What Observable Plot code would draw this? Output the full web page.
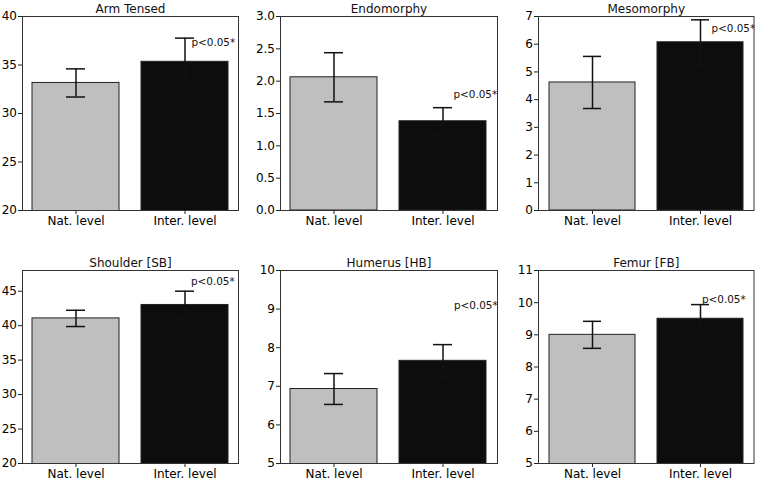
<!DOCTYPE html>
<html>
<head>
<meta charset="utf-8">
<script src="https://cdn.jsdelivr.net/npm/d3@7"></script>
<script src="https://cdn.jsdelivr.net/npm/@observablehq/plot@0.6"></script>
<style>
  html, body { margin: 0; padding: 0; background: #fff; }
  #fig { position: relative; width: 757px; height: 481px; overflow: hidden; }
  #fig svg { position: absolute; }
</style>
</head>
<body>
<div id="fig"></div>
<script>
// Anthropometric comparison: national vs international level athletes (mean ± SD)
const groups = ["Nat. level", "Inter. level"];
const panelTitles = ["Arm Tensed", "Endomorphy", "Mesomorphy", "Shoulder [SB]", "Humerus [HB]", "Femur [FB]"];

const natMeans   = [33.15, 2.06, 4.62, 41.05, 6.93, 9.00];
const natSD      = [1.45, 0.38, 0.94, 1.18, 0.40, 0.42];
const interMeans = [35.33, 1.38, 6.07, 43.00, 7.66, 9.50];
const interSD    = [2.44, 0.21, 0.81, 2.00, 0.42, 0.44];

const yDomains = [[20, 40], [0, 3], [0, 7], [20, 48], [5, 10], [5, 11]];
const yTicks = [
  [20, 25, 30, 35, 40],
  [0, 0.5, 1, 1.5, 2, 2.5, 3],
  [0, 1, 2, 3, 4, 5, 6, 7],
  [20, 25, 30, 35, 40, 45],
  [5, 6, 7, 8, 9, 10],
  [5, 6, 7, 8, 9, 10, 11]
];
const yTickFormats = [d3.format("d"), d3.format(".1f"), d3.format("d"), d3.format("d"), d3.format("d"), d3.format("d")];

// significance note beside the international-level bar
const pLabel = "p<0.05*";
const pLabelY = [37.27, 1.79, 6.57, 46.45, 9.08, 10.09];

// panel placement in the figure
const columns = [
  {left: 0,   width: 244, marginLeft: 22, marginRight: 6},
  {left: 250, width: 252, marginLeft: 30, marginRight: 5},
  {left: 508, width: 249, marginLeft: 30, marginRight: 3.5}
];
const rows = [
  {top: 0,   height: 240, marginTop: 16, marginBottom: 30},
  {top: 240, height: 241, marginTop: 30, marginBottom: 18}
];
const pLabelDx = [6.5, 10.5, 11, 6, 11, 1.5];

const fig = document.getElementById("fig");
const colors = {"Nat. level": "#bfbfbf", "Inter. level": "#0d0d0d"};

panelTitles.forEach((title, i) => {
  const col = columns[i % 3];
  const row = rows[Math.floor(i / 3)];
  const data = [
    {group: groups[0], mean: natMeans[i], sd: natSD[i]},
    {group: groups[1], mean: interMeans[i], sd: interSD[i]}
  ];
  const chart = Plot.plot({
    width: col.width,
    height: row.height,
    marginLeft: col.marginLeft,
    marginRight: col.marginRight,
    marginTop: row.marginTop,
    marginBottom: row.marginBottom,
    style: {fontFamily: "DejaVu Sans", fontSize: "12px", color: "#000", background: "transparent", overflow: "visible"},
    x: {type: "band", domain: groups, paddingInner: 0.2, paddingOuter: 0.09, align: 0.5, label: null},
    y: {domain: yDomains[i], label: null},
    marks: [
      Plot.barY(data, {
        x: "group", y: "mean", clip: true,
        fill: d => colors[d.group], stroke: "#222", strokeWidth: 1
      }),
      Plot.ruleX(data, {
        x: "group", y1: d => d.mean - d.sd, y2: d => d.mean + d.sd,
        stroke: "#111", strokeWidth: 1.5
      }),
      Plot.tickY(data, {
        x: "group", y: d => d.mean - d.sd, insetLeft: 34, insetRight: 34,
        stroke: "#111", strokeWidth: 1.5
      }),
      Plot.tickY(data, {
        x: "group", y: d => d.mean + d.sd, insetLeft: 34, insetRight: 34,
        stroke: "#111", strokeWidth: 1.5
      }),
      Plot.text([{group: groups[1], y: pLabelY[i]}], {
        x: "group", y: "y", text: () => pLabel,
        textAnchor: "start", dx: pLabelDx[i], fontSize: 10.4, fill: "#111"
      }),
      Plot.frame({stroke: "#333", strokeWidth: 1}),
      Plot.axisY({
        ticks: yTicks[i], tickFormat: yTickFormats[i],
        tickSize: 4, tickPadding: 1.5, label: null, stroke: "#222"
      }),
      Plot.axisX({tickSize: 4, tickPadding: 2, label: null, stroke: "#222"}),
      Plot.text([title], {
        frameAnchor: "top", dy: -4, lineAnchor: "bottom", fontSize: 12, fill: "#111"
      })
    ]
  });
  chart.style.left = col.left + "px";
  chart.style.top = row.top + "px";
  fig.appendChild(chart);
});
</script>
</body>
</html>
